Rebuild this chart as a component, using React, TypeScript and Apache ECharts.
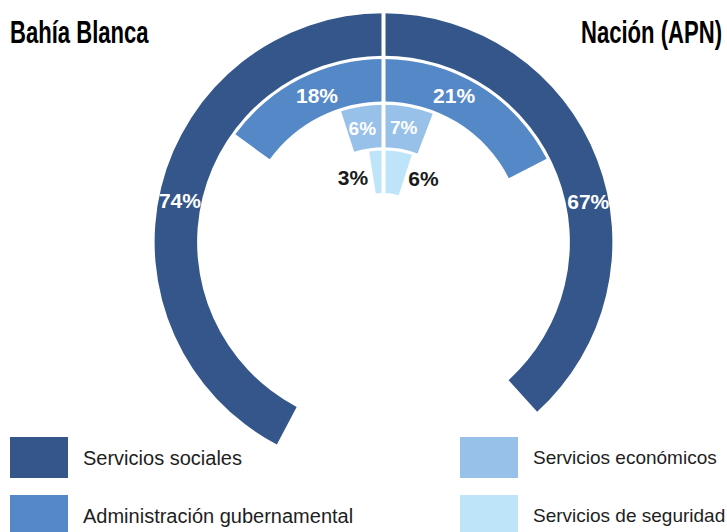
import React, { useEffect, useRef } from "react";
import * as echarts from "echarts";

// Categories (outer ring to inner ring)
const categories = [
  "Servicios sociales",
  "Administración gubernamental",
  "Servicios económicos",
  "Servicios de seguridad",
];
// Percentages of expenditure
const bahiaBlanca = [74, 18, 6, 3];
const nacion = [67, 21, 7, 6];
const titles = ["Bahía Blanca", "Nación (APN)"];

// styles
const colors = ["#34568a", "#5588c7", "#98c1ea", "#bee4f9"];
const labelColors = ["#ffffff", "#ffffff", "#ffffff", "#1a1a1a"];
const labelSizes = [21, 21, 19, 21];
const leftOffsets = [[-2, 8], [7, -2], [-3, 1], [-25, 6]];
const rightOffsets = [[11, 34], [-14, -8], [-1, 0], [29, 6]];
const legendPos = [[10, 437], [10, 495], [460, 437], [460, 495]];
const legendSizes = [20, 20, 19, 19];

const FONT = "'Liberation Sans', Arial, sans-serif";

export default function App() {
  const ref = useRef<HTMLDivElement>(null);
  useEffect(() => {
    if (!ref.current) return;
    const chart = echarts.init(ref.current, null, { renderer: "svg" });
    const radialCats = [...categories].reverse();
    const center = [383.5, 242];
    const radius = [47.5, 230.5];
    const polar = [0, 1, 2, 3].map(() => ({ center, radius }));
    const angleAxis = [0, 1, 2, 3].map((i) => ({
      polarIndex: i,
      type: "value",
      min: 0,
      max: i < 2 ? 175 : 120,
      startAngle: 90,
      clockwise: i % 2 === 1,
      show: false,
      splitLine: { show: false },
    }));
    const radiusAxis = [0, 1, 2, 3].map((i) => ({
      polarIndex: i,
      type: "category",
      data: radialCats,
      show: false,
    }));
    const series: any[] = [];
    categories.forEach((cat, i) => {
      [0, 1].forEach((side) => {
        const values = side === 0 ? bahiaBlanca : nacion;
        const offs = side === 0 ? leftOffsets : rightOffsets;
        const polarIndex = (i === 0 ? 0 : 2) + side;
        series.push({
          type: "bar",
          name: cat,
          coordinateSystem: "polar",
          polarIndex,
          stack: "p" + polarIndex,
          barWidth: 42.5,
          itemStyle: { color: colors[i] },
          label: {
            show: true,
            position: "middle",
            rotate: 0,
            formatter: "{c}%",
            color: labelColors[i],
            fontSize: labelSizes[i],
            fontWeight: "bold",
            fontFamily: FONT,
            offset: offs[i],
          },
          data: radialCats.map((c) => (c === cat ? values[i] : "-")),
        });
      });
    });
    const legend = categories.map((cat, i) => ({
      orient: "vertical",
      left: legendPos[i][0],
      top: legendPos[i][1],
      itemWidth: 58,
      itemHeight: 41,
      icon: "rect",
      selectedMode: false,
      padding: 0,
      data: [cat],
      textStyle: {
        fontFamily: FONT,
        fontSize: legendSizes[i],
        color: "#1e1e1e",
        padding: [0, 0, 0, 10],
      },
    }));
    chart.setOption({
      animation: false,
      backgroundColor: "#ffffff",
      legend,
      polar,
      angleAxis,
      radiusAxis,
      series,
      graphic: [
        {
          type: "rect",
          z: 100,
          shape: { x: 381.5, y: 6, width: 4, height: 196 },
          style: { fill: "#ffffff" },
        },
        {
          type: "text",
          x: 10,
          y: 32,
          scaleX: 0.69,
          z: 100,
          style: {
            text: titles[0],
            font: "bold 32px " + FONT,
            fill: "#000000",
            align: "left",
            verticalAlign: "middle",
          },
        },
        {
          type: "text",
          x: 722,
          y: 32,
          scaleX: 0.69,
          z: 100,
          style: {
            text: titles[1],
            font: "bold 32px " + FONT,
            fill: "#000000",
            align: "right",
            verticalAlign: "middle",
          },
        },
      ],
    });
    return () => chart.dispose();
  }, []);
  return (
    <div
      ref={ref}
      style={{ position: "fixed", left: 0, top: 0, width: 727, height: 532 }}
    />
  );
}
